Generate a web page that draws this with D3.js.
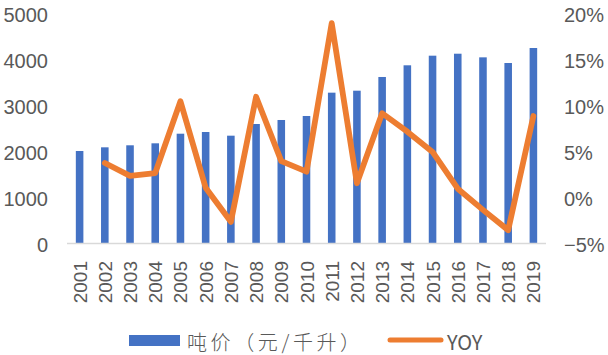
<!DOCTYPE html>
<html><head><meta charset="utf-8">
<script src="https://cdn.jsdelivr.net/npm/d3@7"></script>
<style>body{margin:0;background:#fff}svg{display:block}</style>
</head><body>
<svg id="c" width="608" height="355"></svg>
<script>
const years = ["2001","2002","2003","2004","2005","2006","2007","2008","2009","2010","2011","2012","2013","2014","2015","2016","2017","2018","2019"];
const price = [2000,2080,2124,2167,2376,2413,2333,2587,2674,2761,3268,3311,3609,3863,4072,4115,4036,3913,4239];
const yoy = [null,3.7,2.3,2.6,10.4,1.0,-2.7,10.9,3.9,2.75,18.9,1.5,9.1,7.1,4.9,0.9,-1.4,-3.6,8.8];
const leftTicks = [0,1000,2000,3000,4000,5000];
const rightTicks = [-5,0,5,10,15,20];
const seriesNames = ["吨价（元/千升）","YOY"];

const svg = d3.select("#c");
const x = d3.scaleBand().domain(years).range([67,546]).paddingInner(0.7).paddingOuter(0.35);
const xc = d => x(d) + x.bandwidth()/2;
const yL = d3.scaleLinear().domain([0,5000]).range([243,13]);
const yR = d3.scaleLinear().domain([-5,20]).range([243,13]);
const blue = "#4472C4", orange = "#ED7D31", grey = "#595959";

// bars
svg.append("g").selectAll("rect").data(years).join("rect")
  .attr("x", d => x(d)).attr("width", x.bandwidth())
  .attr("y", (d,i) => yL(price[i])).attr("height", (d,i) => yL(0) - yL(price[i]))
  .attr("fill", blue);

// baseline
svg.append("line").attr("x1",67).attr("x2",546).attr("y1",yL(0)+0.5).attr("y2",yL(0)+0.5)
  .attr("stroke","#d9d9d9").attr("stroke-width",1.3);

// line
const pts = years.map((d,i) => [xc(d), yoy[i]]).filter(p => p[1] !== null);
svg.append("path").datum(pts)
  .attr("d", d3.line().x(p => p[0]).y(p => yR(p[1])))
  .attr("fill","none").attr("stroke",orange).attr("stroke-width",5.8)
  .attr("stroke-linejoin","round").attr("stroke-linecap","round");

// left axis
const axL = d3.axisLeft(yL).tickValues(leftTicks).tickSize(0).tickPadding(0).tickFormat(d3.format("d"));
const gL = svg.append("g").attr("transform","translate(48,0)").call(axL);
gL.select(".domain").remove();
gL.selectAll("text").attr("font-family","Liberation Sans, Arial, sans-serif").attr("font-size",20).attr("fill",grey).attr("dy","0.4em");

// right axis
const axR = d3.axisRight(yR).tickValues(rightTicks).tickSize(0).tickPadding(0).tickFormat(d => (d<0?"\u2212"+Math.abs(d):d)+"%");
const gR = svg.append("g").attr("transform","translate(564,0)").call(axR);
gR.select(".domain").remove();
gR.selectAll("text").attr("font-family","Liberation Sans, Arial, sans-serif").attr("font-size",20).attr("fill",grey).attr("dy","0.4em");

// x labels
svg.append("g").selectAll("text").data(years).join("text")
  .attr("transform", d => `translate(${xc(d)+0.5},261) rotate(-90)`)
  .attr("text-anchor","end").attr("dominant-baseline","central")
  .attr("font-family","Liberation Sans, Arial, sans-serif").attr("font-size",19).attr("fill",grey)
  .text(d => d);

// legend
const lg = svg.append("g");
lg.append("rect").attr("x",129).attr("y",335).attr("width",51).attr("height",11).attr("fill",blue);
lg.append("text").attr("x",187).attr("y",341).attr("dominant-baseline","central")
  .attr("letter-spacing","3.6px")
  .attr("font-family","Noto Sans CJK SC, sans-serif").attr("font-weight",300).attr("font-size",20).attr("fill",grey).text(seriesNames[0]);
lg.append("line").attr("x1",390).attr("x2",441).attr("y1",340).attr("y2",340)
  .attr("stroke",orange).attr("stroke-width",5).attr("stroke-linecap","round");
lg.append("text").attr("x",447).attr("y",341).attr("dominant-baseline","central")
  .attr("font-family","Noto Sans CJK SC, sans-serif").attr("font-size",20).attr("fill",grey).text(seriesNames[1]);
</script>
</body></html>
